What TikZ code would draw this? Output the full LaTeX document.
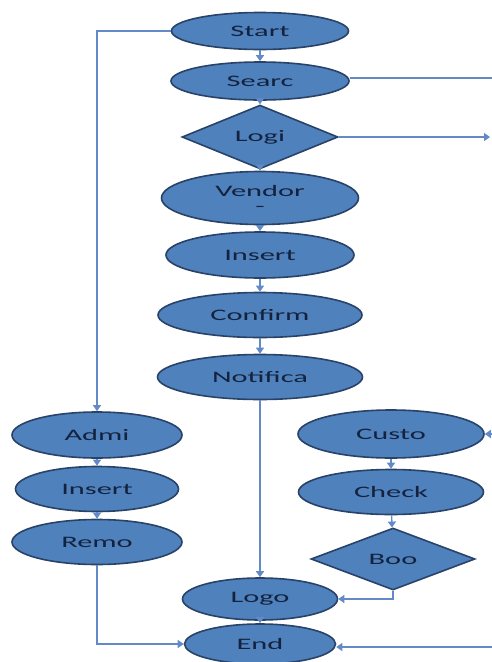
\documentclass[tikz,border=0pt]{standalone}
\usepackage{xcolor}
\usepackage{fontspec}
\setmainfont[FakeStretch=1.9]{Carlito}
\usepackage{tikz}
\usetikzlibrary{shapes.geometric, arrows.meta, positioning}

\definecolor{boxfill}{RGB}{79,129,189}
\definecolor{boxline}{RGB}{40,66,104}
\definecolor{boxtext}{RGB}{20,34,62}
\definecolor{linkblue}{RGB}{98,138,198}

\begin{document}
\begin{tikzpicture}[x=1pt,y=-1pt,
  stepnode/.style={ellipse, draw=boxline, line width=1.6pt, fill=boxfill, text=boxtext, inner sep=0pt, font=\fontsize{16}{17}\selectfont, align=center},
  choice/.style={diamond, draw=boxline, line width=1.6pt, fill=boxfill, text=boxtext, inner sep=0pt, font=\fontsize{16}{17}\selectfont},
  link/.style={draw=linkblue, line width=1.3pt, -{Triangle[width=8pt,length=6pt]}},
  plainlink/.style={draw=linkblue, line width=1.3pt}]
\useasboundingbox (0,0) rectangle (492,662);
% main column
\node [stepnode, minimum width=177, minimum height=37] (start) at (260,31) {Start};
\node [stepnode, minimum width=178, minimum height=38] (searc) at (260,81) {Searc};
\node [choice, minimum width=156, minimum height=52] (logi) at (260,137) {Logi};
\node [stepnode, minimum width=197, minimum height=53] (vendor) at (260,198) {Vendor\\[-2pt]-};
\node [stepnode, minimum width=188, minimum height=46] (insertv) at (260,255) {Insert};
\node [stepnode, minimum width=204, minimum height=45] (confirm) at (260,315) {Confirm};
\node [stepnode, minimum width=205, minimum height=45] (notif) at (260,377) {Notifica};
\node [stepnode, minimum width=155, minimum height=42] (logo) at (260,599) {Logo};
\node [stepnode, minimum width=151, minimum height=40] (endn) at (260,644) {End};
% left column
\node [stepnode, minimum width=170, minimum height=46] (admi) at (97,435) {Admi};
\node [stepnode, minimum width=163, minimum height=45] (insertl) at (97,489) {Insert};
\node [stepnode, minimum width=170, minimum height=45] (remo) at (97,542) {Remo};
% right column
\node [stepnode, minimum width=186, minimum height=48] (custo) at (391,434) {Custo};
\node [stepnode, minimum width=185, minimum height=45] (check) at (391,492) {Check};
\node [choice, minimum width=164, minimum height=62] (boo) at (393,559) {Boo};
% loose ends at the right edge
\coordinate (searcout) at (492,78);
\coordinate (logiout) at (490,137);
\coordinate (custoin) at (492,434);
\coordinate (endin) at (492,647);

\draw [link] (start) -- (searc);
\draw [link] (searc) -- (logi);
\draw [link] (logi) -- (vendor);
\draw [link] (vendor) -- (insertv);
\draw [link] (insertv) -- (confirm);
\draw [link] (confirm) -- (notif);
\draw [link] (notif) -- (logo);
\draw [link] (logo) -- (endn);
\draw [link] (start.west) -| (admi.north);
\draw [link] (admi) -- (insertl);
\draw [link] (insertl) -- (remo);
\draw [link] (remo.south) |- (endn.west);
\draw [link] (custo) -- (check);
\draw [link] (check) -- (boo);
\draw [link] (boo.south) |- (logo.east);
\draw [plainlink] (searc.east |- searcout) -- (searcout);
\draw [link] (logi.east) -- (logiout);
\draw [link] (custoin) -- (custo.east);
\draw [link] (endin) -- (endn.east |- endin);
\end{tikzpicture}
\end{document}
